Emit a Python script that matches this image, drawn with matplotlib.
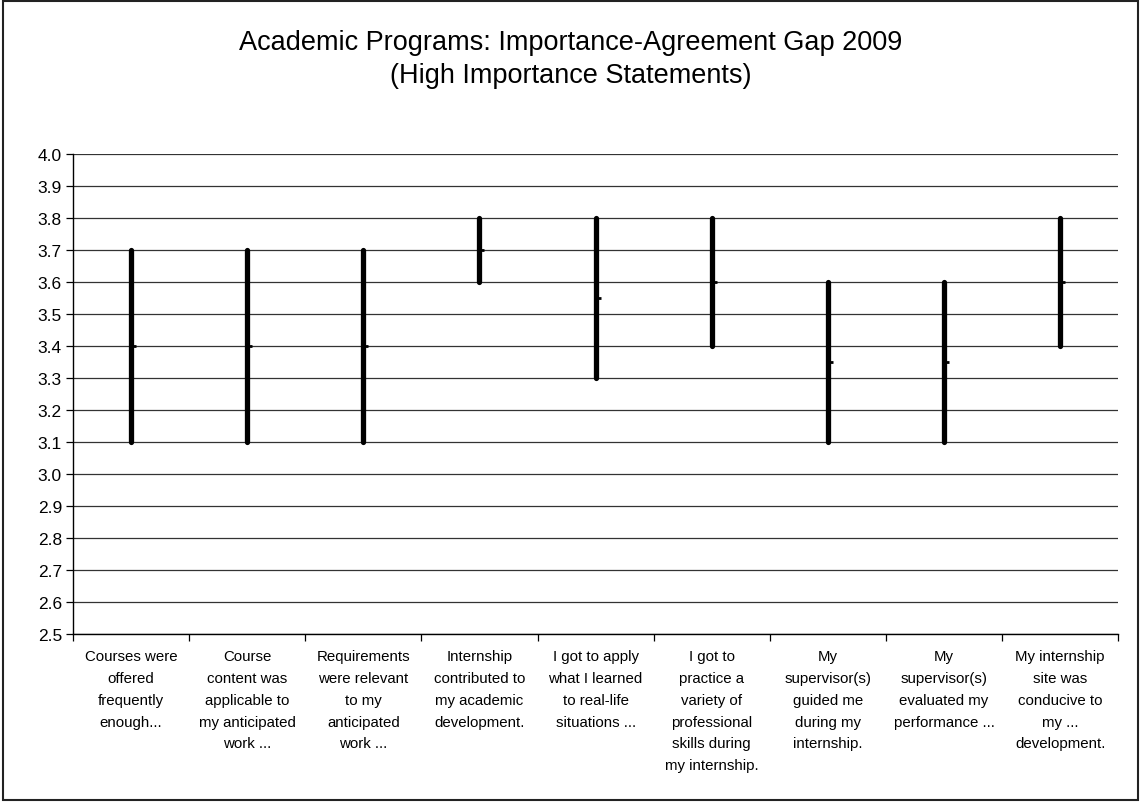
import numpy as np
import matplotlib
matplotlib.use("Agg")
import matplotlib.pyplot as plt
from matplotlib.patches import Rectangle

plt.rcParams['font.family'] = ['Liberation Sans', 'DejaVu Sans']

# high-importance statements, importance (high) vs agreement (low)
statements = [
    "Courses were\noffered\nfrequently\nenough...",
    "Course\ncontent was\napplicable to\nmy anticipated\nwork ...",
    "Requirements\nwere relevant\nto my\nanticipated\nwork ...",
    "Internship\ncontributed to\nmy academic\ndevelopment.",
    "I got to apply\nwhat I learned\nto real-life\nsituations ...",
    "I got to\npractice a\nvariety of\nprofessional\nskills during\nmy internship.",
    "My\nsupervisor(s)\nguided me\nduring my\ninternship.",
    "My\nsupervisor(s)\nevaluated my\nperformance ...",
    "My internship\nsite was\nconducive to\nmy ...\ndevelopment.",
]
high = [3.7, 3.7, 3.7, 3.8, 3.8, 3.8, 3.6, 3.6, 3.8]
low = [3.1, 3.1, 3.1, 3.6, 3.3, 3.4, 3.1, 3.1, 3.4]
mid = [3.4, 3.4, 3.4, 3.7, 3.55, 3.6, 3.35, 3.35, 3.6]
yticks = np.round(np.arange(2.5, 4.01, 0.1), 1)

fig = plt.figure(figsize=(11.41, 8.03), dpi=100)
fig.patches.append(Rectangle((0.003, 0.002), 0.994, 0.995, transform=fig.transFigure,
                             fill=False, edgecolor='#222222', linewidth=1.5))
ax = fig.add_axes([0.064, 0.209, 0.916, 0.598])

x = np.arange(len(statements))
for yv in yticks:
    ax.axhline(yv, color='#333333', linewidth=0.9, zorder=1)
ax.vlines(x, low, high, color='black', linewidth=3.8, capstyle='round', zorder=3)
ax.plot(x, mid, linestyle='none', marker=1, markersize=3.5, markeredgewidth=2,
        color='black', zorder=4)

ax.set_ylim(2.5, 4.0)
ax.set_xlim(-0.5, len(statements) - 0.5)
ax.set_yticks(yticks)
ax.set_yticklabels([f"{v:.1f}" for v in yticks], fontsize=12.5)
ax.tick_params(axis='y', direction='out', length=5, width=0.9, pad=3)

ax.set_xticks(np.arange(-0.5, len(statements), 1.0))
ax.set_xticklabels([])
ax.set_xticks(x, minor=True)
ax.set_xticklabels(statements, minor=True, fontsize=10.8, linespacing=1.7,
                   ha='center', va='top')
ax.tick_params(axis='x', which='major', direction='out', length=5, width=0.9)
ax.tick_params(axis='x', which='minor', length=0, pad=11)

for side in ['top', 'right']:
    ax.spines[side].set_visible(False)
ax.spines['left'].set_linewidth(1.0)
ax.spines['bottom'].set_linewidth(1.0)

fig.text(0.5, 0.963, "Academic Programs: Importance-Agreement Gap 2009\n(High Importance Statements)",
         ha='center', va='top', fontsize=19.5, linespacing=1.37)

fig.savefig("out.png", dpi=100)
